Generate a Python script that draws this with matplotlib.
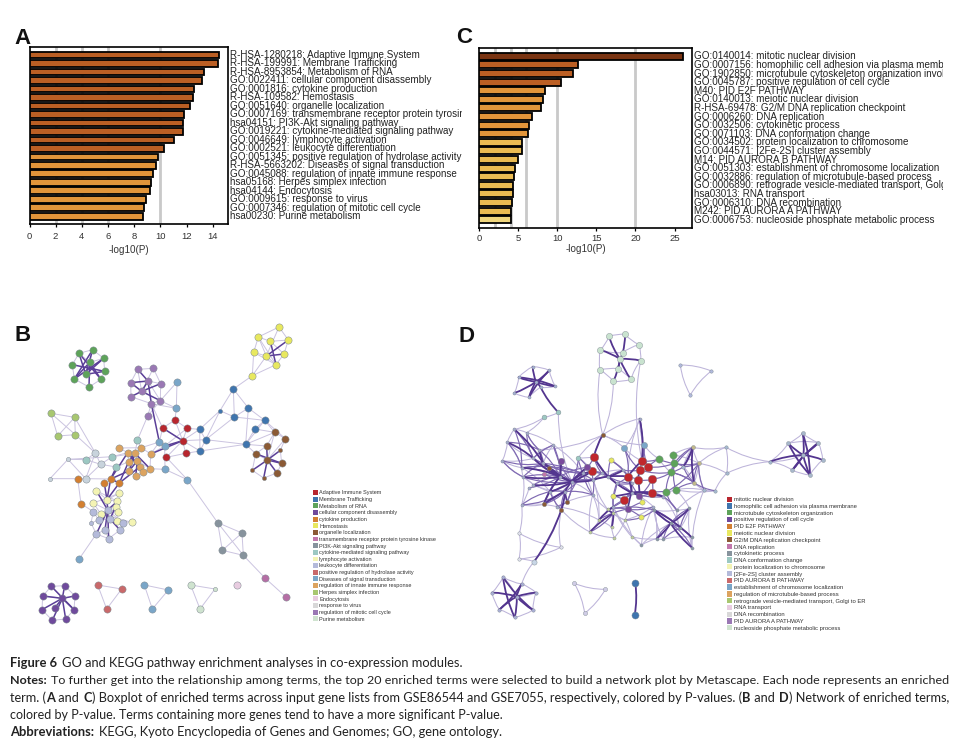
import matplotlib
matplotlib.use("Agg")
import matplotlib.pyplot as plt
from matplotlib.path import Path
from matplotlib.patches import PathPatch, Patch
from matplotlib.transforms import Bbox

W, H = 975, 742

# ---------- bar data ----------
terms_a = ["R-HSA-1280218: Adaptive Immune System", "R-HSA-199991: Membrane Trafficking",
           "R-HSA-8953854: Metabolism of RNA", "GO:0022411: cellular component disassembly",
           "GO:0001816: cytokine production", "R-HSA-109582: Hemostasis",
           "GO:0051640: organelle localization", "GO:0007169: transmembrane receptor protein tyrosine kinase",
           "hsa04151: PI3K-Akt signaling pathway", "GO:0019221: cytokine-mediated signaling pathway",
           "GO:0046649: lymphocyte activation", "GO:0002521: leukocyte differentiation",
           "GO:0051345: positive regulation of hydrolase activity", "R-HSA-5663202: Diseases of signal transduction",
           "GO:0045088: regulation of innate immune response", "hsa05168: Herpes simplex infection",
           "hsa04144: Endocytosis", "GO:0009615: response to virus",
           "GO:0007346: regulation of mitotic cell cycle", "hsa00230: Purine metabolism"]
values_a = [14.46, 14.4, 13.3, 13.15, 12.6, 12.5, 12.25, 11.8, 11.75, 11.75,
            11.08, 10.27, 9.8, 9.7, 9.45, 9.25, 9.22, 8.87, 8.77, 8.64]
colors_a = ["#bb5f24"] * 12 + ["#e2953a"] * 8

terms_c = ["GO:0140014: mitotic nuclear division", "GO:0007156: homophilic cell adhesion via plasma membrane",
           "GO:1902850: microtubule cytoskeleton organization involved in mitosis",
           "GO:0045787: positive regulation of cell cycle", "M40: PID E2F PATHWAY",
           "GO:0140013: meiotic nuclear division", "R-HSA-69478: G2/M DNA replication checkpoint",
           "GO:0006260: DNA replication", "GO:0032506: cytokinetic process", "GO:0071103: DNA conformation change",
           "GO:0034502: protein localization to chromosome", "GO:0044571: [2Fe-2S] cluster assembly",
           "M14: PID AURORA B PATHWAY", "GO:0051303: establishment of chromosome localization",
           "GO:0032886: regulation of microtubule-based process",
           "GO:0006890: retrograde vesicle-mediated transport, Golgi to ER",
           "hsa03013: RNA transport", "GO:0006310: DNA recombination", "M242: PID AURORA A PATHWAY",
           "GO:0006753: nucleoside phosphate metabolic process"]
values_c = [26.07, 12.6, 12.0, 10.4, 8.4, 8.1, 7.86, 6.7, 6.4, 6.28,
            5.5, 5.43, 5.0, 4.6, 4.5, 4.27, 4.27, 4.15, 4.06, 4.0]
colors_c = ["#7a3412"] + ["#bb5f24"] * 3 + ["#e2953a"] * 6 + ["#eabb52"] * 9 + ["#f0d67e"]

grid_a = [2, 4, 6, 10]
grid_c = [2, 4, 6, 10, 20]
ticks_a = [0, 2, 4, 6, 8, 10, 12, 14]
ticks_c = [0, 5, 10, 15, 20, 25]

# ---------- legends ----------
legend_b = ["Adaptive Immune System", "Membrane Trafficking", "Metabolism of RNA", "cellular component disassembly",
            "cytokine production", "Hemostasis", "organelle localization",
            "transmembrane receptor protein tyrosine kinase", "PI3K-Akt signaling pathway",
            "cytokine-mediated signaling pathway", "lymphocyte activation", "leukocyte differentiation",
            "positive regulation of hydrolase activity", "Diseases of signal transduction",
            "regulation of innate immune response", "Herpes simplex infection", "Endocytosis",
            "response to virus", "regulation of mitotic cell cycle", "Purine metabolism"]
legend_d = ["mitotic nuclear division", "homophilic cell adhesion via plasma membrane",
            "microtubule cytoskeleton organization", "positive regulation of cell cycle", "PID E2F PATHWAY",
            "meiotic nuclear division", "G2/M DNA replication checkpoint", "DNA replication", "cytokinetic process",
            "DNA conformation change", "protein localization to chromosome", "[2Fe-2S] cluster assembly",
            "PID AURORA B PATHWAY", "establishment of chromosome localization",
            "regulation of microtubule-based process", "retrograde vesicle-mediated transport, Golgi to ER",
            "RNA transport", "DNA recombination", "PID AURORA A PATHWAY", "nucleoside phosphate metabolic process"]
legend_colors = ["#b8262e", "#3f75ae", "#5ea35a", "#6f4a9c", "#d37f31", "#e8e85f", "#8b5a35", "#c277ac", "#87939d",
                 "#9cc8c2", "#f4f4b4", "#b4bada", "#c9696a", "#7aa6c8", "#dca35f", "#a8c770", "#e8cce0", "#d8d8d8",
                 "#9a78b4", "#cfe3cf"]

# ---------- network B (node positions) ----------
b_nodes = {
 "g": [(237,130),(278,119),(311,145),(217,164),(269,157),(314,184),(257,193),(223,207),(303,208),(267,231)],
 "y": [(837,51),(775,81),(865,90),(811,94),(761,127),(852,132),(799,138),(828,164),(757,197)],
 "p": [(413,178),(460,175),(392,218),(444,213),(482,221),(425,244),(393,260),(481,272),(454,281),(443,318)],
 "b": [(531,216),(529,295),(478,396),(494,408),(495,478),(562,509),(238,746)],
 "m": [(700,237),(660,302),(745,294),(703,321),(794,331),(765,357),(737,403),(599,358),(617,389),(600,423)],
 "r": [(525,330),(488,354),(561,355),(548,392),(557,430),(499,442)],
 "k": [(824,367),(856,386),(800,408),(767,431),(841,421),(802,450),(845,460),(757,481),(831,489),(791,504)],
 "o": [(358,414),(424,413),(383,428),(452,432),(405,430),(386,455),(412,452),(420,470),(388,482),(450,476),(428,486),(407,499)],
 "t": [(412,391),(337,440),(258,449),(349,471)],
 "v": [(286,429),(302,463),(257,506),(204,448),(150,506)],
 "c": [(233,506),(313,520),(332,507),(358,519),(243,581)],
 "h": [(153,310),(224,322),(173,378),(226,374)],
 "l": [(289,542),(358,550),(321,569),(352,574),(280,579),(347,590),(353,605),(302,611),(350,633),(395,637)],
 "d": [(323,600),(280,605),(296,630),(330,627),(273,639),(370,640),(360,660),(315,660),(289,672),(326,686)],
 "n": [(653,638),(726,669),(667,721),(730,736)],
 "i": [(796,805),(858,861)],
 "q": [(154,829),(194,827),(128,858),(225,858),(187,865),(165,893),(126,899),(222,899),(157,931),(197,927)],
 "s": [(293,825),(365,837),(320,897)],
 "e": [(433,825),(505,840),(457,897)],
 "f": [(572,825),(645,837),(600,897)],
 "j": [(712,825)],
}
b_colors = {"g":"#5ea35a","y":"#e8e85f","p":"#9a78b4","b":"#7aa6c8","m":"#3f75ae","r":"#b8262e","k":"#8b5a35",
            "o":"#dca35f","t":"#9cc8c2","v":"#c8d3dc","c":"#d37f31","h":"#a8c770","l":"#f4f4b4","d":"#b4bada",
            "n":"#87939d","i":"#b56ea5","q":"#6f4a9c","s":"#c9696a","e":"#7aa6c8","f":"#cfe3cf","j":"#e8cce0"}
b_small = {"m1","k4","k7","k9","v3","v4","f1","d4"}

b_weak = """g0-g1 g1-g2 g2-g5 g5-g8 g8-g9 g9-g7 g7-g3 g3-g0 g0-g4 g1-g4 g2-g4
y0-y1 y0-y2 y1-y4 y2-y5 y5-y7 y7-y6 y4-y8 y6-y8 y7-y8 y1-y3 y3-y2 y0-y6 y1-y7 y3-y5 y4-y6 y1-y6 y4-y7
p0-p1 p1-p4 p0-p2 p2-p6 p4-p7 p7-p8 p8-p9 p0-p5 p1-p5 p3-p7 p6-p8 p9-p7 p4-p3
b0-b1 b0-p7 b1-p7 b1-p8 p9-t0 b4-b5 b5-n0 r5-b5 b3-b4 b6-d8
y8-m0 m0-m1 m0-m3 m0-m2 m1-m3 m2-m3 m2-m4 m3-m4 m4-m5 m5-m6 m4-m6 m1-m7 m1-m8 m6-m8 m6-m9 m3-m8 m7-m8 m7-m9 m8-m9 m2-m6
m6-k0 m6-k2 m6-k3 m5-k0 m4-k1 m4-k0 k0-k1 k1-k4 k4-k6 k6-k8 k8-k9 k9-k7 k7-k3 k3-k2 k2-k0 k0-k5 k1-k5 k3-k5
r0-r1 r0-r2 r0-r3 r1-r3 r2-r3 r3-r4 r3-r5 r1-b2 r2-m7 r4-m9 r4-r5 r0-b1 r2-b3 r1-p8 m7-r3 m8-r3 m9-r3
n0-n1 n0-n2 n0-n3 n1-n2 n1-n3 n2-n3 n3-i0 i0-i1
h0-h1 h0-h2 h0-h3 h1-h2 h1-h3 h2-h3 h1-v0 h3-v0
t2-v0 t2-v1 t2-v3 v0-v1 v0-v2 v1-v2 v3-v4 v4-c0 c0-v2 v3-v2 v2-c2 c0-c4 v1-t1 v1-t3 t1-o2 t1-o4 t3-o5 v3-t1 c4-d1
o0-o1 o1-o3 o3-o9 o9-o11 o11-o8 o8-o5 o0-o2 o2-o5 o6-o9 o6-o10 o4-o6 o4-o7 o3-b2 o3-b3 o1-b2 b4-o9 t0-o4 t0-o1
l0-l3 l0-l2 l1-l2 l1-l4 l2-l3 l3-l5 l4-l7 l5-l6 l6-l8 l8-l9 l7-l9 d0-l4 d0-l6 d0-l7
d1-d2 d2-d3 d3-d0 d0-d5 d5-d6 d6-d9 d9-d8 d8-d4 d4-d1 d7-d8 d7-d9 d3-d5 d2-d4
q0-q1 q1-q3 q3-q7 q7-q9 q9-q8 q8-q6 q6-q2 q2-q0 q0-q4 q2-q4
s0-s1 s1-s2 s2-s0 e0-e1 e1-e2 e2-e0 f0-f1 f1-f2 f2-f0"""

b_strong = """g4-g7 g4-g8 g4-g9 g6-g1 g6-g2 g6-g5 g6-g0 g3-g5 g0-g8 g1-g7 g2-g7
y3-y7 y6-y2 y6-y5
p5-p4 p2-p5 p5-p6 p3-p5 p5-p7 p3-p8 p0-p3 p2-p3 p8-b2
o4-o5 o4-o8 o6-o8 o6-o11 o2-o7 o2-o10 o4-o9 c3-o5 c2-o8 c2-l2 c1-l2 c3-l2 c2-c3 t3-c2 c2-o2 c3-o7 r3-b3 r3-o3 r3-r1
l2-d0 l0-d0 l3-d0 d0-d7 d0-d2 d0-d9 d0-d8 d3-d6 l5-d3
q4-q2 q4-q3 q4-q5 q4-q6 q4-q7 q4-q8 q4-q9 q4-q1 q0-q7
k5-k7 k5-k8 k5-k9 k5-k6 k5-k4 k2-k5 k3-k6"""

# ---------- network D (node positions) ----------
d_nodes = {
 "a": [(477,79),(525,73),(567,104),(451,120),(518,128),(572,152),(510,147),(450,180),(503,176),(543,208),(490,214)],
 "u": [(248,170),(298,181),(206,202),(316,229),(193,249),(237,262),(258,215),(272,232)],
 "t": [(282,322),(325,307),(385,443)],
 "k": [(458,375),(296,475),(281,583),(334,599),(352,575)],
 "b": [(523,414),(582,405)],
 "r": [(432,440),(427,482),(576,453),(594,471),(570,480),(534,500),(564,510),(606,508),(607,548),(522,570)],
 "y": [(482,451),(577,577),(573,622),(490,558)],
 "q": [(534,598),(568,558),(332,452),(412,472)],
 "g": [(627,447),(668,435),(673,460),(663,487),(648,546),(677,539)],
 "p": [(283,492)],
 "c": [(193,358),(230,368),(172,397),(310,405),(157,452),(215,473),(220,501),(215,585),(250,445),(268,420),
       (250,525),(237,533),(320,590),(345,545),(400,490),(428,555),(365,515),(330,500),(280,460),(300,545),(569,326)],
 "v": [(475,500),(500,520),(545,548),(430,510),(455,490),(520,480),(490,590),(545,520),(610,590),(640,560)],
 "w": [(420,666),(447,630),(485,652),(493,683),(473,598),(525,630),(545,680),(490,610)],
 "x": [(718,595),(620,686),(640,688),(725,682),(726,713),(662,640),(574,706),(612,600),(680,600),(690,655)],
 "z": [(728,412),(746,460),(732,518)],
 "n": [(828,412),(830,490),(762,540),(795,542),(700,470),(960,455)],
 "s": [(1058,370),(1015,400),(1105,398),(1118,450),(1060,435),(1080,495),(1027,480)],
 "o": [(208,670),(332,712),(207,747)],
 "e": [(252,755)],
 "f": [(159,801),(215,822),(126,848),(258,848),(200,860),(148,899),(194,922),(249,900)],
 "h": [(691,165),(784,183),(721,255)],
 "i": [(373,820),(466,838),(404,910)],
 "m": [(556,820),(554,915)],
}
d_colors = {"a":"#c9e3cf","u":"#a5b0d5","t":"#9cc8c2","k":"#8b5a35","b":"#7aa6c8","r":"#c0272d","y":"#e8e85f",
            "q":"#7a4a9c","g":"#5ea35a","p":"#c277ac","c":"#a5aacd","v":"#a5aacd","w":"#c3cf9a","x":"#8c9aa8",
            "z":"#c3b98a","n":"#a5b8d0","s":"#a8b8cc","o":"#e0e0ec","e":"#c8d6e6","f":"#a9aed5","h":"#b0b8dc",
            "i":"#d0cce6","m":"#3f75ae"}
d_sizes = {"a":20,"u":5,"t":12,"k":10,"b":20,"r":38,"y":14,"q":22,"g":28,"p":10,"c":5,"v":5,"w":5,"x":5,
           "z":8,"n":6,"s":8,"o":6,"e":14,"f":6,"h":6,"i":9,"m":26}

d_weak = """a0-a1 a1-a2 a2-a5 a5-a9 a9-a10 a10-a7 a7-a3 a3-a0 a4-a2 a8-a7 a8-a9 a3-a4 a10-k0 a7-k0
u0-u1 u1-u3 u3-u7 u7-u5 u5-u4 u4-u2 u2-u0 t0-t1 t0-c1 t1-c16 t0-c0
k0-t2 k0-b0 k0-b1 k0-c20 k0-r0 k0-c9 c20-b1 c20-b0 b0-r2 b1-r2 b1-g0
c0-c1 c0-c2 c2-c4 c4-c5 c1-c3 c2-c8 c3-c9 c5-c6 c6-c7 c7-k2 c9-c8 c4-c8 c6-c10 c7-c11 c3-c14 c8-c18 c14-c15 c15-c16 c12-c15
c3-c18 c7-o0 o0-o1 o1-o2 o2-o0 o1-k3 e0-o2 k3-e0 f0-f1 f1-f3 f3-f7 f7-f6 f6-f5 f5-f2 f2-f0 f0-f4 f1-f4 f3-f4 e0-f1
v0-v1 v1-v2 v2-v7 v3-v4 v4-v5 v5-r5 v6-w4 w0-w1 w1-w2 w2-w3 w3-w0 w4-w5 w5-w6 w6-x1 w0-k3 w1-c15 w5-w7 w7-w2 w4-w1 w3-w5 c12-w1 c15-w4
x0-x8 x7-x8 x7-x1 x1-x2 x2-x3 x3-x4 x4-x0 x5-x6 x6-x1 x8-x9 x9-x3 x7-x5 x0-x9 x6-w6 x7-v8 x8-v9 v9-g4 v8-v2 x4-n2
z0-z1 z1-z2 z0-n4 n4-z2 z0-g1 g1-g2 g2-g3 g3-g0 g4-g5 g5-n2 n2-n3 n3-n1 n1-n0 n0-z0 n0-n5 n1-n5 n0-z1 z1-n1 z2-n2
s0-s1 s0-s2 s2-s3 s3-s5 s5-s6 s6-n5 s1-n5 n5-s4 s1-s2 s6-s4
h0-h1 h1-h2 h2-h0 i0-i1 i1-i2 i2-i0
c0-c8 c1-c9 c2-c5 c4-c6 c8-c3 c6-c19 c5-c19 c10-c13 c7-c12 c12-c19 w0-c15 w1-v3 w4-v3 w2-v6 w6-v6 w5-q0 v8-w5 v6-x6
r0-t2 r1-t2 c14-v4 a5-r2 c20-r4 c20-r5 x6-v8 x1-v8 x2-v8 x0-g5 x8-n2 z1-n2 v9-x9 g5-n3 g1-z1"""

d_mid = """c0-c5 c1-c8 c2-c9 c4-c18 c9-c18 c8-c17 c5-c14 c6-c16 c19-c13 c12-k4 c7-c19 k2-c13 k3-c19 c16-t2 c13-c15
q3-c17 k1-c16 p0-c16 c3-c17 v3-c16 v4-r1 r0-v0 r1-v0 v0-v7 v5-v7 v1-v6 v3-v0 v1-r5 r5-r6 r6-r7 r7-r8 r4-g3 r3-g0 g3-g4 g2-r3
q1-r8 q1-y1 y1-q0 q0-y2 r9-q0 r9-v2 q0-w4 w4-x7 v2-v9 w1-w7 w0-w7 w7-q0
x0-x5 x1-x5 x3-x5 x2-x5 x4-x5 z0-n4 z0-g3 z1-n4 z2-g3 z2-n4 z1-z2
c0-c8 c1-c9 c2-c5 c4-c6 c8-c3 c5-c18 c6-c18 c18-c14 c9-c17 c3-c16 c6-c17 c7-c13 c10-c17 c11-c17 k2-c17 k2-c16 k3-c13 k4-c16 k4-c14 c13-c14
c15-c14 c15-v3 v3-v4 v4-v0 v0-v5 t2-c14 t2-q3 q3-c14 r0-q3 r1-v3 r1-q3 r0-v4 y0-v5 y0-v0 y0-r5 v5-r4 b0-r5 b0-r4 b1-r2 b1-r3 c20-r4
v1-v7 v1-v2 v6-v2 v6-r9 y3-v1 y3-r9 y3-v6 q1-v7 q1-r7 r8-g4 r7-g3 g0-r2 g0-g2 g1-g3 g2-g5 y2-w5 y2-x7 w7-v6 w4-v6 v8-q0 v9-r8 v8-x7 x8-v9
x7-x9 x9-x2 x9-x0 g4-x8 g5-z2 g2-z1 g3-z2 n4-g2 n4-g3 z0-g2 z1-g4 z2-n3 n2-z1 c8-c14 c18-v3 c17-v3 c5-c16 c19-c16"""

d_strong = """a6-a0 a6-a4 a6-a5 a6-a3 a6-a8 a6-a9 a6-a10 a4-a1
u6-u0 u6-u1 u6-u4 u6-u5 u6-u2 u6-u3 u6-u7 u1-u5 u2-u3 u7-t1
c16-c17 c17-q2 c16-c14 c16-c13 c16-c10 c17-c18 c13-k3 c13-k4 c16-c19 k1-c17 c16-q3 c14-r1 r1-c16
k0-r0 c20-r2 r0-v0 v0-r5 v0-v2 r5-v2 v7-v2 v2-q1 v2-q0 v2-r8 q1-r6 r6-r4 r2-r5 v2-v9
f4-f2 f4-f3 f4-f5 f4-f6 f4-f7 f4-f1 f0-f6 f1-f5 f0-f7 x5-x1 x5-x0 x7-x3 z0-z2 z0-n4
s4-s0 s4-s1 s4-s2 s4-s3 s4-s5 s4-s6 s1-s5 s0-s5 s2-s6 n5-s4
e0-k3 m0-m1 c16-v3 v3-v0 v0-v5 v2-y3 c8-c17 c5-c17 c9-c18 k2-c17 c6-c17 c0-c18 c13-k2 x5-x7 x5-x4 w1-v6 w4-w7 w7-w2 w7-w0 c2-c8 c18-c16"""


def px_axes(fig, x0, y0, x1, y1):
    return fig.add_axes([x0 / W, 1 - y1 / H, (x1 - x0) / W, (y1 - y0) / H])


def bar_panel(fig, box, terms, values, colors, grid, ticks, xmax, ylim, clip_x, fs, tick_pad, label_pad):
    ax = px_axes(fig, *box)
    ypos = list(range(len(terms)))
    for g in grid:
        ax.axvline(g, color="#c9c9c9", lw=2.0, zorder=1)
    ax.barh(ypos, values, height=0.8, color=colors, edgecolor="black", linewidth=1.3, zorder=3)
    ax.set_xlim(0, xmax)
    ax.set_ylim(*ylim)
    ax.yaxis.tick_right()
    ax.set_yticks(ypos)
    ax.set_yticklabels(terms, fontsize=fs, color="#222222", va="center")
    ax.tick_params(axis="y", length=0, pad=1.6)
    ax.set_xticks(ticks)
    ax.tick_params(axis="x", length=2, width=0.9, labelsize=6.8, pad=tick_pad, labelcolor="#333333")
    ax.set_xlabel("-log10(P)", fontsize=7.1, labelpad=label_pad, color="#333333")
    for s in ax.spines.values():
        s.set_linewidth(1.2)
    cb = Bbox([[0, 0], [clip_x, H]])
    for lab in ax.get_yticklabels():
        lab.set_clip_on(True)
        lab.set_clip_box(cb)
    return ax


def curve(p, q, rad):
    (x0, y0), (x1, y1) = p, q
    cx = (x0 + x1) / 2 + rad * (y1 - y0)
    cy = (y0 + y1) / 2 - rad * (x1 - x0)
    return Path([(x0, y0), (cx, cy), (x1, y1)], [Path.MOVETO, Path.CURVE3, Path.CURVE3])


def draw_edges(ax, nodes, spec, color, lw, rad, z, alpha=1.0):
    for i, pair in enumerate(spec.split()):
        a, b = pair.split("-")
        p = nodes[a[0]][int(a[1:])]
        q = nodes[b[0]][int(b[1:])]
        r = rad if i % 2 == 0 else -rad
        ax.add_patch(PathPatch(curve(p, q, r), fc="none", ec=color, lw=lw, zorder=z, alpha=alpha, capstyle="round"))


def text_line(fig, x, y, parts, size, color="#222222"):
    rend = fig.canvas.get_renderer()
    for s, bold in parts:
        t = fig.text(x / W, 1 - y / H, s, fontsize=size, family="Lato", color=color,
                     fontweight="bold" if bold else "normal", va="baseline", ha="left")
        x += t.get_window_extent(rend).width + (size * 0.12 * 100 / 72 if s.endswith(" ") else 0)


def legend(fig, labels, x, y, fs, spacing, pad):
    handles = [Patch(fc=c, ec="none") for c in legend_colors]
    leg = fig.legend(handles, labels, loc="upper left", bbox_to_anchor=(x / W, 1 - y / H),
                     bbox_transform=fig.transFigure, fontsize=fs, frameon=False,
                     handlelength=1.0, handleheight=1.0, handletextpad=pad,
                     labelspacing=spacing, borderaxespad=0, borderpad=0)
    for t in leg.get_texts():
        t.set_color("#333333")


plt.rcParams["font.family"] = ["Liberation Sans", "DejaVu Sans"]
fig = plt.figure(figsize=(W / 100, H / 100), dpi=100)

bar_panel(fig, (29.5, 47, 228, 224), terms_a, values_a, colors_a, grid_a, ticks_a, 15.17, (19.9, -0.94), 461.7, 7.08, 3.5, 2.8)
bar_panel(fig, (479.3, 47.7, 691.7, 228), terms_c, values_c, colors_c, grid_c, ticks_c, 27.2, (19.96, -1.0), 943, 7.08, 2.2, 1.2)

# network B
axb = px_axes(fig, 0, 310, 300, 640)
axb.set_xlim(0, 900)
axb.set_ylim(990, 0)
axb.axis("off")
draw_edges(axb, b_nodes, b_weak, "#cbc4e0", 0.7, 0.0, 1)
draw_edges(axb, b_nodes, b_strong, "#5b3f98", 1.1, 0.0, 2)
for key, pts in b_nodes.items():
    for i, (x, y) in enumerate(pts):
        sz = 9 if f"{key}{i}" in b_small else 27
        axb.scatter([x], [y], s=sz, c=b_colors[key], edgecolors="#7f8a90", linewidths=0.35, zorder=4)

# network D
axd = px_axes(fig, 450, 310, 880, 640)
axd.set_xlim(0, 1290)
axd.set_ylim(990, 0)
axd.axis("off")
draw_edges(axd, d_nodes, d_weak, "#bdb4da", 0.75, 0.1, 1)
draw_edges(axd, d_nodes, d_mid, "#7f69b2", 0.85, 0.12, 2)
draw_edges(axd, d_nodes, d_strong, "#53358f", 1.3, 0.08, 3)
for key, pts in d_nodes.items():
    xs = [p[0] for p in pts]
    ys = [p[1] for p in pts]
    axd.scatter(xs, ys, s=d_sizes[key], c=d_colors[key], edgecolors="#7f8a90", linewidths=0.3, zorder=4)

legend(fig, legend_b, 312.5, 490, 3.95, 0.24, 0.25)
legend(fig, legend_d, 726.5, 496.5, 4.28, 0.18, 0.25)

# panel letters
for s, x, y in [("A", 14, 44), ("C", 456, 43), ("B", 14, 341), ("D", 458, 342)]:
    fig.text(x / W, 1 - y / H, s, fontsize=16, fontweight="bold", va="baseline", ha="left", color="#111111")

# caption
fig.canvas.draw()
text_line(fig, 10, 667, [("Figure 6 ", True), ("GO and KEGG pathway enrichment analyses in co-expression modules.", False)], 9.27)
text_line(fig, 10, 684, [("Notes: ", True), ("To further get into the relationship among terms, the top 20 enriched terms were selected to build a network plot by Metascape. Each node represents an enriched", False)], 8.99)
text_line(fig, 10, 702, [("term. (", False), ("A", True), (" and ", False), ("C", True), (") Boxplot of enriched terms across input gene lists from GSE86544 and GSE7055, respectively, colored by P-values. (", False), ("B", True), (" and ", False), ("D", True), (") Network of enriched terms,", False)], 9.15)
text_line(fig, 10, 719, [("colored by P-value. Terms containing more genes tend to have a more significant P-value.", False)], 9.03)
text_line(fig, 10, 736, [("Abbreviations: ", True), ("KEGG, Kyoto Encyclopedia of Genes and Genomes; GO, gene ontology.", False)], 9.3)

fig.savefig("out.png", dpi=100)
